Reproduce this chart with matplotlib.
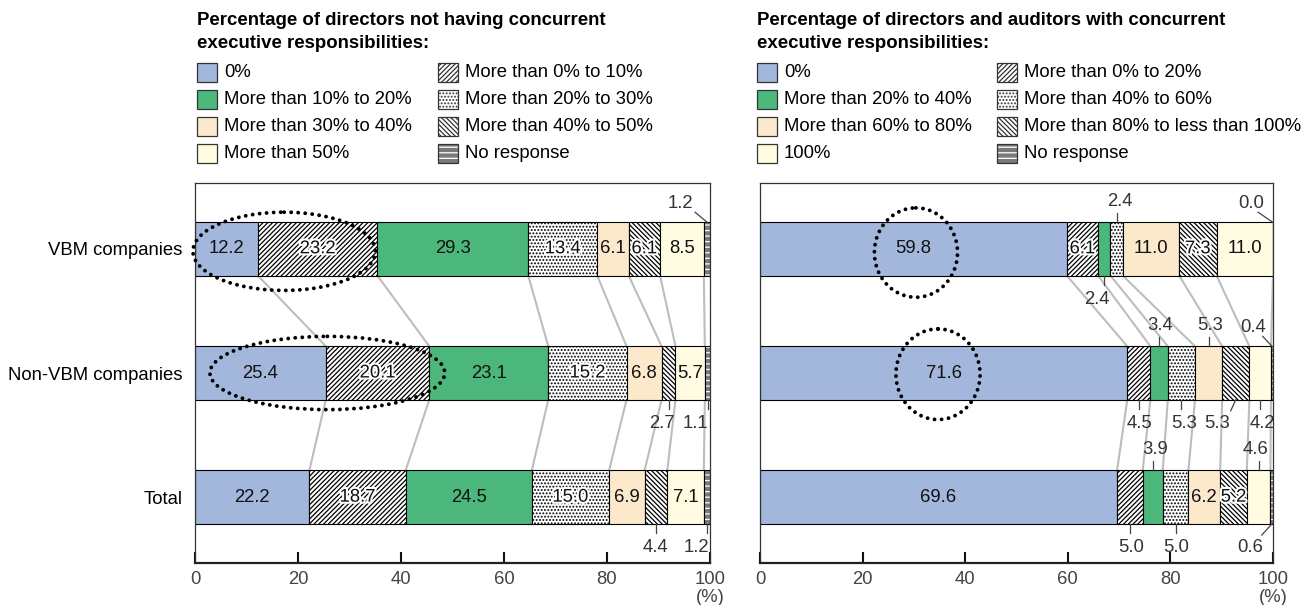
import matplotlib
matplotlib.use("Agg")
import matplotlib.pyplot as plt
from matplotlib.patches import Rectangle, Ellipse
import matplotlib.patheffects as pe
import numpy as np

plt.rcParams['font.family'] = ['Liberation Sans', 'DejaVu Sans']
plt.rcParams['hatch.linewidth'] = 0.9

# ---------------- data ----------------
rows = ["VBM companies", "Non-VBM companies", "Total"]

left_title = "Percentage of directors not having concurrent\nexecutive responsibilities:"
left_categories = ["0%", "More than 0% to 10%", "More than 10% to 20%",
                   "More than 20% to 30%", "More than 30% to 40%",
                   "More than 40% to 50%", "More than 50%", "No response"]
left_vbm = [12.2, 23.2, 29.3, 13.4, 6.1, 6.1, 8.5, 1.2]
left_non_vbm = [25.4, 20.1, 23.1, 15.2, 6.8, 2.7, 5.7, 1.1]
left_total = [22.2, 18.7, 24.5, 15.0, 6.9, 4.4, 7.1, 1.2]

right_title = "Percentage of directors and auditors with concurrent\nexecutive responsibilities:"
right_categories = ["0%", "More than 0% to 20%", "More than 20% to 40%",
                    "More than 40% to 60%", "More than 60% to 80%",
                    "More than 80% to less than 100%", "100%", "No response"]
right_vbm = [59.8, 6.1, 2.4, 2.4, 11.0, 7.3, 11.0, 0.0]
right_non_vbm = [71.6, 4.5, 3.4, 5.3, 5.3, 5.3, 4.2, 0.4]
right_total = [69.6, 5.0, 3.9, 5.0, 6.2, 5.2, 4.6, 0.6]

x_ticks = [0, 20, 40, 60, 80, 100]

# ---------------- styles ----------------
BLUE = '#A3B6DC'
GREEN = '#4BB77B'
BEIGE = '#FCE9CB'
CREAM = '#FFFCE2'
NR_GREY = '#7A7A7A'
CONNECT = '#BDBDBD'
BAR_H = 0.43

seg_styles = [
    dict(fc=BLUE, hatch=None),
    dict(fc='white', hatch='/' * 7),
    dict(fc=GREEN, hatch=None),
    dict(fc='white', hatch='.' * 5),
    dict(fc=BEIGE, hatch=None),
    dict(fc='white', hatch='\\' * 7),
    dict(fc=CREAM, hatch=None),
    None,  # no response: grey with white stripes
]
HALO = [pe.withStroke(linewidth=3, foreground='white')]

# label placement per row and segment: (mode, text x shift, leader x shift)
left_label_modes = [
    [('in', 0, 0)] * 7 + [('above_diag', -5.2, -2.3)],
    [('in', 0, 0)] * 5 + [('below', -1.2, 0), ('in', 0, 0), ('below', -2.3, 0)],
    [('in', 0, 0)] * 5 + [('below', 0, 0), ('in', 0, 0), ('below', -2.1, 0)],
]
right_label_modes = [
    [('in', 0, 0), ('in', 0, 0), ('below', -1.5, 0), ('above', 0.6, 0),
     ('in', 0, 0), ('in', 0, 0), ('in', 0, 0), ('above_diag', -4.2, -2.9)],
    [('in', 0, 0), ('below', 0.2, 0), ('above', 0.2, 0), ('below', 0.5, 0),
     ('above', 0.2, 0), ('below_diag', -3.6, -1.0), ('below', 0.4, 0),
     ('above_diag', -3.7, -1.8)],
    [('in', 0, 0), ('below', 0.2, 0), ('above', 0.4, 0), ('below', 0.1, 0),
     ('in', 0, 0), ('in', 0, 0), ('above', -0.6, 0), ('below_diag', -4.3, -2.0)],
]

# dotted emphasis rings: (x centre, row, width, height)
left_rings = [(17.3, 0.02, 35.4, 0.63), (25.7, 1.0, 45.6, 0.59)]
right_rings = [(30.4, 0.03, 16.2, 0.72), (34.7, 1.01, 16.4, 0.73)]

FS = 13.3
fig = plt.figure(figsize=(13.08, 6.05), dpi=100)


def draw_panel(ax, data_rows, label_modes, rings, show_rows):
    for r, vals in enumerate(data_rows):
        vals = np.asarray(vals, dtype=float)
        lefts = np.concatenate([[0.0], np.cumsum(vals)[:-1]])
        for i, (v, l) in enumerate(zip(vals, lefts)):
            st = seg_styles[i]
            if st is None:
                ax.barh(r, v, left=l, height=BAR_H, color=NR_GREY,
                        edgecolor='white', hatch='---', linewidth=0, zorder=2)
                ax.barh(r, v, left=l, height=BAR_H, fill=False,
                        edgecolor='black', linewidth=0.8, zorder=3)
            else:
                ax.barh(r, v, left=l, height=BAR_H, color=st['fc'],
                        edgecolor='black', hatch=st['hatch'], linewidth=0.8,
                        zorder=2)
        # value labels
        for i, (v, l) in enumerate(zip(vals, lefts)):
            mode, dx, dl = label_modes[r][i]
            cx = l + v / 2
            txt = f"{v:.1f}"
            top = r - BAR_H / 2
            bot = r + BAR_H / 2
            if mode == 'in':
                kw = dict(path_effects=HALO) if seg_styles[i]['hatch'] else {}
                ax.text(cx + dx, r, txt, ha='center', va='center', fontsize=FS,
                        color='#111111', zorder=5, **kw)
            elif mode == 'below':
                ax.plot([cx, cx], [bot, bot + 0.075], color='#444444', lw=0.9,
                        zorder=4, clip_on=False)
                ax.text(cx + dx, bot + 0.19, txt, ha='center', va='center',
                        fontsize=FS, color='#333333', zorder=5)
            elif mode == 'above':
                ax.plot([cx, cx], [top, top - 0.075], color='#444444', lw=0.9,
                        zorder=4, clip_on=False)
                ax.text(cx + dx, top - 0.17, txt, ha='center', va='center',
                        fontsize=FS, color='#333333', zorder=5)
            elif mode == 'above_diag':
                ax.plot([min(cx, 99.9), cx + dl], [top, top - 0.08],
                        color='#444444', lw=0.9, zorder=4, clip_on=False)
                ax.text(cx + dx, top - 0.15, txt, ha='center', va='center',
                        fontsize=FS, color='#333333', zorder=5)
            elif mode == 'below_diag':
                ax.plot([min(cx, 99.9), cx + dl], [bot, bot + 0.09],
                        color='#444444', lw=0.9, zorder=4, clip_on=False)
                ax.text(cx + dx, bot + 0.19, txt, ha='center', va='center',
                        fontsize=FS, color='#333333', zorder=5)

    # connectors between segment boundaries of neighbouring bars
    for r in range(len(data_rows) - 1):
        a = np.cumsum(data_rows[r])[:7]
        b = np.cumsum(data_rows[r + 1])[:7]
        for xa, xb in zip(a, b):
            ax.plot([xa, xb], [r + BAR_H / 2, r + 1 - BAR_H / 2],
                    color=CONNECT, lw=1.5, zorder=1, solid_capstyle='butt')

    for (x, y, w, h) in rings:
        ax.add_patch(Ellipse((x, y), w, h, fill=False, edgecolor='black',
                             linewidth=2.8, linestyle=(0, (0.01, 1.8)),
                             capstyle='round', zorder=6, clip_on=False))

    ax.set_xlim(0, 100)
    ax.set_ylim(2.53, -0.53)
    ax.set_xticks(x_ticks)
    ax.set_xticklabels([str(t) for t in x_ticks], fontsize=FS, color='#444444')
    ax.tick_params(axis='x', direction='in', length=8, width=1.5, pad=6,
                   colors='#111111', labelcolor='#444444')
    ax.text(1.0, -0.09, "(%)", transform=ax.transAxes, ha='center',
            va='center', fontsize=FS, color='#444444')
    if show_rows:
        ax.set_yticks(range(len(rows)))
        ax.set_yticklabels(rows, fontsize=FS)
        ax.tick_params(axis='y', length=0, pad=9)
    else:
        ax.set_yticks([])
    for s in ['top', 'left', 'right']:
        ax.spines[s].set_linewidth(0.9)
        ax.spines[s].set_color('#333333')
    ax.spines['bottom'].set_linewidth(1.6)
    ax.spines['bottom'].set_color('#222222')


W, H = 1308, 605
ax_left = fig.add_axes([195 / W, 1 - 563 / H, 515 / W, 380 / H])
ax_right = fig.add_axes([760 / W, 1 - 563 / H, 513 / W, 380 / H])

draw_panel(ax_left, [left_vbm, left_non_vbm, left_total], left_label_modes,
           left_rings, True)
draw_panel(ax_right, [right_vbm, right_non_vbm, right_total], right_label_modes,
           right_rings, False)

# ---------------- legends (pixel space overlay) ----------------
ov = fig.add_axes([0, 0, 1, 1], zorder=-1)
ov.set_xlim(0, W)
ov.set_ylim(H, 0)
ov.axis('off')


def draw_legend(x0, col2_x, title, cats):
    ov.text(x0, 32, title, ha='left', va='center', fontsize=13.4,
            fontweight='bold', linespacing=1.45)
    row_y = [72, 99, 126, 153]
    for i, cat in enumerate(cats):
        bx = x0 if i % 2 == 0 else col2_x
        y = row_y[i // 2]
        st = seg_styles[i]
        if st is None:
            ov.add_patch(Rectangle((bx, y - 9.5), 20, 19, facecolor=NR_GREY,
                                   edgecolor='white', hatch='---', linewidth=0))
            ov.add_patch(Rectangle((bx, y - 9.5), 20, 19, fill=False,
                                   edgecolor='#333333', linewidth=0.9))
        else:
            ov.add_patch(Rectangle((bx, y - 9.5), 20, 19, facecolor=st['fc'],
                                   edgecolor='#333333', hatch=st['hatch'],
                                   linewidth=0.9))
        ov.text(bx + 27, y + 0.5, cat, ha='left', va='center', fontsize=FS)


draw_legend(197, 438, left_title, left_categories)
draw_legend(757, 997, right_title, right_categories)

fig.savefig("out.png", dpi=100)
